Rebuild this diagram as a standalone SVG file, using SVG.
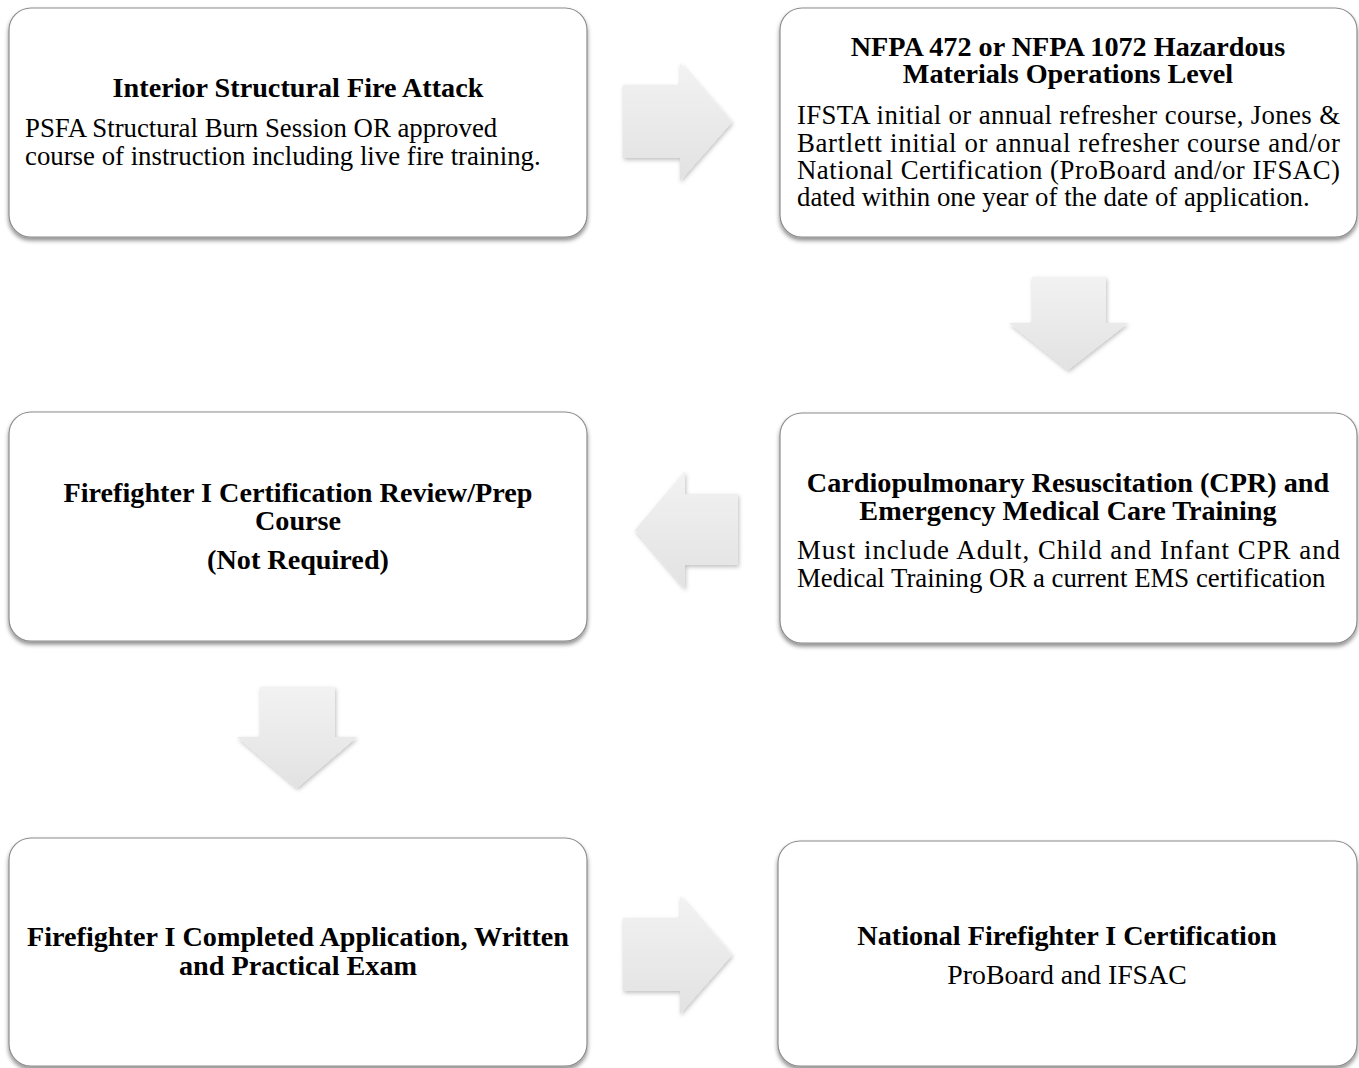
<svg xmlns="http://www.w3.org/2000/svg" width="1359" height="1068" viewBox="0 0 1359 1068">
<style>
.box{fill:#ffffff;stroke:#8c8c8c;stroke-width:1.2;filter:url(#sh)}
.arr{fill:url(#ag);filter:url(#ash)}
text{font-family:"Liberation Serif","Times New Roman",serif;fill:#000;font-size:26.8px}
.t{font-weight:bold;text-anchor:middle;font-size:28.2px}
.c{text-anchor:middle}
</style>
<defs>
<filter id="sh" x="-5%" y="-5%" width="110%" height="115%">
<feDropShadow dx="0" dy="3" stdDeviation="2" flood-color="#000" flood-opacity="0.45"/>
</filter>
<filter id="ash" x="-20%" y="-20%" width="140%" height="140%">
<feDropShadow dx="1" dy="2" stdDeviation="2" flood-color="#000" flood-opacity="0.25"/>
</filter>
<linearGradient id="ag" x1="0" y1="0" x2="0" y2="1">
<stop offset="0" stop-color="#f2f2f2"/>
<stop offset="1" stop-color="#e2e2e2"/>
</linearGradient>
</defs>
<g id="connectors">
<polygon class="arr" points="623,85 680,85 680,63 732,122 680,181 680,158 623,158"/>
<polygon class="arr" points="1032,277 1106,277 1106,323 1128,323 1068,370 1009,323 1032,323"/>
<polygon class="arr" points="738,494 685,494 685,471 635,530 685,589 685,565 738,565"/>
<polygon class="arr" points="260,687 335,687 335,737 357,737 297,788 237,737 260,737"/>
<polygon class="arr" points="623,918 680,918 680,896 732,955 680,1014 680,991 623,991"/>
</g>
<g id="node1">
<rect class="box" x="9" y="8" width="578" height="229" rx="22"/>
<text class="t" x="298" y="97">Interior Structural Fire Attack</text>
<text x="25" y="137">PSFA Structural Burn Session OR approved</text>
<text x="25" y="165">course of instruction including live fire training.</text>
</g>
<g id="node2">
<rect class="box" x="780" y="8" width="577" height="229" rx="22"/>
<text class="t" x="1068" y="56">NFPA 472 or NFPA 1072 Hazardous</text>
<text class="t" x="1068" y="83">Materials Operations Level</text>
<text x="797" y="124" textLength="543" lengthAdjust="spacing">IFSTA initial or annual refresher course, Jones &amp;</text>
<text x="797" y="152" textLength="543" lengthAdjust="spacing">Bartlett initial or annual refresher course and/or</text>
<text x="797" y="179" textLength="543" lengthAdjust="spacing">National Certification (ProBoard and/or IFSAC)</text>
<text x="797" y="206">dated within one year of the date of application.</text>
</g>
<g id="node3">
<rect class="box" x="780" y="413" width="577" height="230" rx="22"/>
<text class="t" x="1068" y="492">Cardiopulmonary Resuscitation (CPR) and</text>
<text class="t" x="1068" y="520">Emergency Medical Care Training</text>
<text x="797" y="559" textLength="543" lengthAdjust="spacing">Must include Adult, Child and Infant CPR and</text>
<text x="797" y="587">Medical Training OR a current EMS certification</text>
</g>
<g id="node4">
<rect class="box" x="9" y="412" width="578" height="229" rx="22"/>
<text class="t" x="298" y="502">Firefighter I Certification Review/Prep</text>
<text class="t" x="298" y="530">Course</text>
<text class="t" x="298" y="569">(Not Required)</text>
</g>
<g id="node5">
<rect class="box" x="9" y="838" width="578" height="228" rx="22"/>
<text class="t" x="298" y="946">Firefighter I Completed Application, Written</text>
<text class="t" x="298" y="975">and Practical Exam</text>
</g>
<g id="node6">
<rect class="box" x="778" y="841" width="579" height="225" rx="22"/>
<text class="t" x="1067" y="945">National Firefighter I Certification</text>
<text class="c" x="1067" y="984" style="font-size:27.8px">ProBoard and IFSAC</text>
</g>
</svg>
